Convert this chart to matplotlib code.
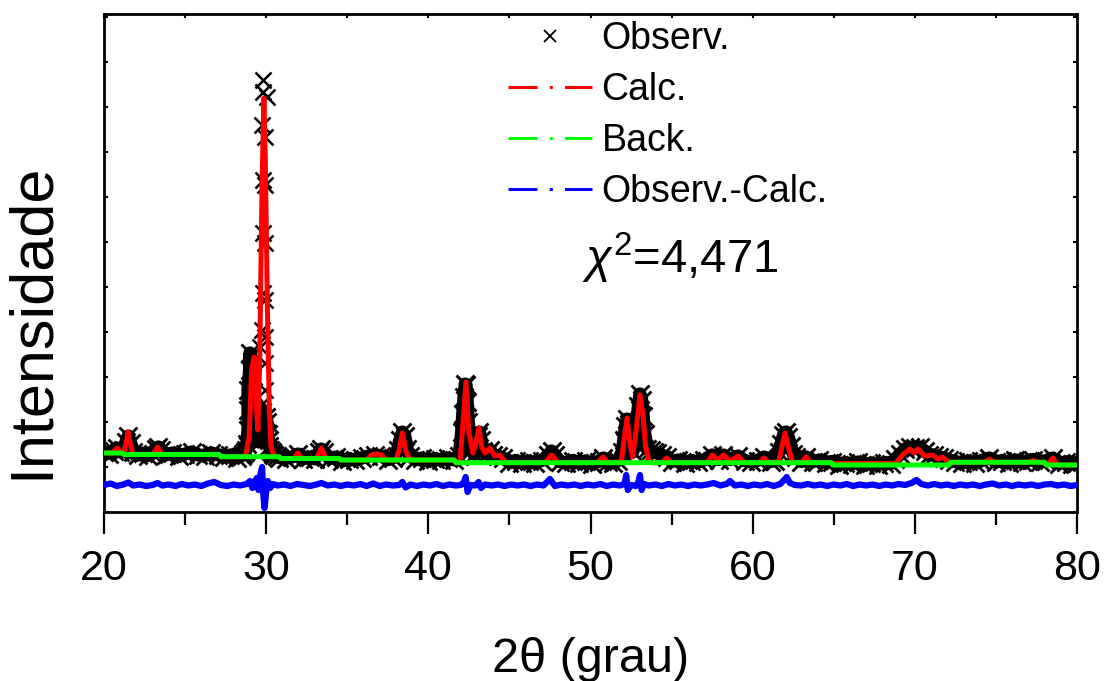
import matplotlib
matplotlib.use("Agg")
import matplotlib.pyplot as plt
from matplotlib.lines import Line2D
from matplotlib.ticker import MultipleLocator

plt.rcParams["font.family"] = ["Liberation Sans", "DejaVu Sans"]
plt.rcParams["mathtext.fontset"] = "custom"
plt.rcParams["mathtext.rm"] = "Liberation Sans"
plt.rcParams["mathtext.it"] = "Liberation Sans:italic"

# observed points (2theta, intensity in arbitrary units)
obs_2theta = [
    20.0, 20.3, 20.6, 20.8, 21.0,
    21.2, 21.35, 21.5, 21.65, 21.8,
    22.1, 22.4, 22.7, 23.0,
    23.2, 23.35, 23.5,
    23.8, 24.2, 24.6, 25.0, 25.4, 25.8, 26.2, 26.6, 27.0,
    27.4, 27.8, 28.2, 28.5,
    28.6, 28.7, 28.75, 28.8, 28.88, 28.88, 28.88, 28.98, 29.0, 29.05, 29.1, 29.15, 29.2,
    29.25, 29.3, 29.35, 29.38, 29.45, 29.52, 29.55, 29.65, 29.75,
    30.0, 30.05, 30.1, 30.15, 30.2, 30.25, 30.35, 30.45, 30.5, 30.65,
    30.8, 31.2, 31.6, 31.95, 32.3, 32.7, 33.0,
    33.25, 33.4, 33.55,
    33.9, 34.3, 34.7, 35.1, 35.5, 35.9, 36.3, 36.7, 37.1, 37.5, 37.8,
    38.1, 38.25, 38.4, 38.55, 38.7, 38.85,
    39.2, 39.6, 40.0, 40.4, 40.8, 41.2, 41.6,
    41.9, 42.05, 42.12, 42.2, 42.27, 42.33, 42.4, 42.47, 42.55, 42.65, 42.8, 42.95,
    43.05, 43.15, 43.25, 43.4, 43.6, 43.8, 44.0, 44.3, 44.6,
    45.0, 45.4, 45.8, 46.2, 46.6, 47.0,
    47.4, 47.6, 47.8,
    48.1, 48.5, 48.9, 49.3, 49.7, 50.1, 50.5, 50.8, 51.1, 51.4, 51.7,
    51.95, 52.05, 52.15, 52.25, 52.35, 52.45, 52.6, 52.75, 52.85, 52.95, 53.05, 53.15,
    53.25, 53.35, 53.5, 53.7, 53.9, 54.1, 54.4,
    54.7, 55.0, 55.4, 55.8, 56.2, 56.6, 57.0,
    57.5, 57.9, 58.2, 58.6, 59.1, 59.5, 59.9, 60.3, 60.7, 61.1, 61.4,
    61.6, 61.75, 61.9, 62.05, 62.2, 62.35, 62.5, 62.7,
    63.0, 63.3, 63.7, 64.1, 64.5, 64.9,
    65.3, 65.7, 66.1, 66.5, 66.9, 67.3, 67.7, 68.1, 68.5,
    68.8, 69.1, 69.4, 69.7, 70.0, 70.3, 70.6, 70.9, 71.2, 71.5, 71.8, 72.1,
    72.5, 72.9, 73.3, 73.7, 74.1, 74.6, 75.0, 75.4, 75.8, 76.2, 76.6, 77.0, 77.3, 77.7, 78.1,
    78.5, 78.9, 79.3, 79.7, 80.0,
]
obs_int = [
    60, 58.5, 61, 64, 60,
    62, 70, 76, 69, 60,
    57, 59, 56.5, 58.5,
    63, 65, 62,
    57, 59, 56, 58, 60, 57, 56.5, 59, 57.5,
    55, 57, 54.5, 56.5,
    58, 60, 62, 68, 82, 102, 122, 142, 159, 75, 150, 85, 120,
    92, 100, 78, 88, 80, 95, 70, 88, 100,
    95, 90, 78, 72, 66, 62, 60, 58, 57, 56,
    54.5, 53.5, 55, 58, 53.5, 55, 53,
    60, 63, 60,
    53.5, 55, 51.5, 53.5, 52, 54, 56, 57, 56, 52.5, 54,
    62, 72, 80, 76, 63, 56,
    52.5, 54, 51, 53.5, 52, 54, 52,
    56, 80, 98, 115, 128, 127, 110, 90, 72, 62, 58, 66,
    76, 80, 72, 61, 58, 62, 57, 56, 54,
    49.5, 51.5, 49, 51, 49.5, 51.5,
    57, 61, 57,
    50.5, 49, 51.5, 49.5, 51, 48.5, 50.5, 54, 50.5, 49, 51.5,
    60, 72, 86, 93, 88, 72, 60, 68, 88, 106, 118, 112,
    96, 78, 63, 62, 60, 59, 57,
    55, 50.5, 52, 49.5, 51.5, 50, 52,
    57, 52.5, 57, 52.5, 56, 51.5, 50, 51.5, 55, 50.5, 51.5,
    60, 68, 77, 80, 75, 66, 58, 55,
    50.5, 55, 50.5, 52, 49.5, 50.5,
    47.5, 49.5, 48, 50, 47, 49, 47.5, 49.5, 48.5,
    53, 58, 63, 65, 64, 65, 61, 57, 57, 55, 54, 52,
    50.5, 49, 51, 49.5, 51.5, 54, 50, 51.5, 49.5, 52, 50, 51.5, 52.5, 50, 51.5,
    54, 48.5, 50, 48, 49.5,
]

# observed points on the flanks of the strongest reflection
obs_peak_2theta = [29.61, 29.72, 29.72, 29.8, 29.82, 29.82, 29.82, 29.82, 29.82,
                   29.92, 29.92, 29.92, 29.92, 29.92, 29.92, 29.92, 30.03]
obs_peak_int = [165, 387, 182, 109, 432, 420, 332, 279, 219,
                375, 327, 269, 212, 175, 149, 122, 415]

# calculated profile (vertices)
calc_2theta = [
    20.0, 20.5, 20.8, 21.05, 21.15, 21.2, 21.35, 21.48, 21.62, 21.8,
    23.0, 23.2, 23.3, 23.4, 23.6, 27.1, 27.2,
    28.6, 28.75, 28.95, 29.1, 29.26, 29.38, 29.49, 29.6, 29.75, 29.86, 29.95, 30.08,
    30.2, 30.3, 30.5, 30.8, 30.9,
    31.7, 31.95, 32.2, 33.1, 33.4, 33.7, 34.5, 34.6,
    36.2, 36.5, 36.8, 37.1, 37.4, 38.0, 38.2, 38.4, 38.6, 38.85, 41.6, 41.7,
    41.95, 42.1, 42.32, 42.5, 42.75, 42.95, 43.12, 43.3, 43.5, 43.8, 44.1, 44.4, 44.8,
    47.2, 47.6, 48.0, 50.4, 50.77, 51.1,
    51.9, 52.05, 52.25, 52.42, 52.6, 52.8, 53.05, 53.25, 53.4, 53.6, 53.8,
    54.4, 54.7, 55.0, 57.2, 57.5, 57.85, 58.2, 58.6, 59.1, 59.5, 60.4, 60.7, 61.0,
    61.6, 61.8, 62.0, 62.2, 62.45, 63.0, 63.3, 63.6, 64.85, 64.95,
    68.8, 69.3, 69.7, 69.95, 70.2, 70.6, 71.1, 71.4, 71.7, 72.1, 72.2,
    74.3, 74.6, 74.9, 77.0, 77.3, 77.6, 78.0, 78.1, 78.2, 78.5, 78.8, 80.0,
]
calc_int = [
    59, 59, 64, 59.5, 59, 58, 68, 80, 68, 57.5,
    57.5, 62, 65, 62, 57.5, 57.5, 55.3,
    55.3, 58, 75, 142, 155, 110, 82, 150, 330, 414, 350, 200,
    100, 65, 56, 55.3, 53.5,
    53.5, 59, 53.5, 53.5, 64, 53.5, 53.5, 52,
    52, 57, 58, 57, 52, 52, 62, 79, 62, 52, 52, 49.3,
    50, 80, 130, 80, 59, 70, 84, 65, 59, 64, 56, 57, 49.3,
    49.3, 57, 49.3, 49.3, 55, 49.3,
    50, 70, 94, 70, 55, 80, 117, 95, 65, 52, 49.3,
    49.3, 54, 49.3, 49.3, 57, 52, 57, 51, 56, 49.3, 49.3, 54, 49.3,
    50, 65, 79, 65, 50, 49.3, 55, 49.3, 49.3, 48.5,
    48.5, 58, 63, 59, 63, 56, 57, 53, 55, 49.7, 49.7,
    49.7, 53, 49.7, 49.7, 51.5, 49.7, 49.7, 47, 47.5, 54, 47, 47,
]

# background (vertices)
back_2theta = [20.0, 21.1, 21.25, 27.1, 27.2, 30.8, 30.9, 34.5, 34.6, 41.6, 41.7,
               64.85, 64.95, 72.1, 72.2, 78.0, 78.1, 80.0]
back_int = [59, 59, 57.5, 57.5, 55.3, 55.3, 53.5, 53.5, 52, 52, 49.3,
            49.3, 47, 47, 49.7, 49.7, 47, 47]

# difference curve (offset)
diff_2theta = [
    20.0, 20.4, 20.8, 21.2, 21.5, 21.8, 22.2, 22.6, 23.0, 23.3, 23.6, 24.0, 24.4, 24.8,
    25.2, 25.6, 26.0, 26.4, 26.8, 27.2, 27.6, 28.0, 28.4, 28.8, 29.0, 29.15, 29.3, 29.42,
    29.52, 29.65, 29.75, 29.82, 29.9, 30.0, 30.1, 30.25, 30.4, 30.7, 31.1, 31.5, 31.9,
    32.3, 32.7, 33.1, 33.4, 33.8, 34.2, 34.6, 35.0, 35.4, 35.8, 36.2, 36.6, 37.0, 37.4,
    37.8, 38.2, 38.4, 38.6, 38.9, 39.3, 39.7, 40.1, 40.5, 40.9, 41.3, 41.7, 42.0, 42.2,
    42.3, 42.42, 42.6, 42.9, 43.1, 43.25, 43.5, 43.9, 44.3, 44.7, 45.1, 45.5, 45.9, 46.3,
    46.7, 47.1, 47.5, 47.8, 48.2, 48.6, 49.0, 49.4, 49.8, 50.2, 50.6, 51.0, 51.4, 51.8,
    52.1, 52.2, 52.3, 52.5, 52.8, 52.95, 53.05, 53.15, 53.3, 53.6, 54.0, 54.4, 54.8, 55.2,
    55.6, 56.0, 56.4, 56.8, 57.2, 57.6, 58.0, 58.4, 58.6, 58.9, 59.3, 59.7, 60.1, 60.5,
    60.9, 61.3, 61.7, 62.0, 62.1, 62.3, 62.6, 63.0, 63.4, 63.8, 64.2, 64.6, 65.0, 65.4,
    65.8, 66.2, 66.6, 67.0, 67.4, 67.8, 68.2, 68.6, 69.0, 69.4, 69.8, 70.1, 70.4, 70.8,
    71.2, 71.6, 72.0, 72.4, 72.8, 73.2, 73.6, 74.0, 74.4, 74.8, 75.2, 75.6, 76.0, 76.4,
    76.8, 77.2, 77.6, 78.0, 78.4, 78.8, 79.2, 79.6, 80.0,
]
diff_int = [
    27, 28.5, 26, 27.5, 29.5, 26.5, 27.5, 26, 27, 29, 26.5, 27.5, 26, 28,
    26.5, 27.5, 26, 28.5, 30, 27, 26, 27.5, 26.5, 28, 31, 24, 30, 34,
    22, 38, 45, 18, 4, 20, 31, 24, 28, 26.5, 27.5, 26, 28,
    27, 26, 27.5, 29, 26.5, 27.5, 26, 27.5, 26.5, 28, 26, 28.5, 26, 27.5,
    26.5, 27, 30, 24.5, 27.5, 26, 27.5, 26.5, 28, 26, 27.5, 26.5, 27, 30,
    35, 20, 27, 26.5, 30, 24, 27.5, 26.5, 27.5, 26, 27.5, 26.5, 27.5, 26,
    27.5, 26.5, 33, 26, 27.5, 26.5, 27.5, 26, 27.5, 26.5, 28, 26, 27.5, 26.5,
    28, 37, 22, 27, 26, 30, 37, 22, 28, 26.5, 27.5, 26, 28, 26.5,
    27.5, 26, 27.5, 26.5, 27.5, 29, 26.5, 28, 31, 26.5, 27.5, 26, 27.5, 26.5,
    28, 26, 28, 33, 35, 29, 27, 26.5, 28, 26.5, 27.5, 26, 27.5, 26.5,
    28, 26, 27.5, 26.5, 27.5, 26, 27.5, 26.5, 28, 27, 29, 32, 28, 26.5,
    28, 26.5, 27.5, 26, 27.5, 26.5, 27.5, 26, 27.5, 28.5, 26.5, 27.5, 26, 27.5,
    26.5, 27.5, 26, 27.5, 28, 26.5, 27.5, 26, 27,
]

legend_labels = ["Observ.", "Calc.", "Back.", "Observ.-Calc."]
chi2_text = r"$\chi^{2}$=4,471"

fig = plt.figure(figsize=(11.04, 6.81), dpi=100)
ax = fig.add_axes([104 / 1104, 1 - 512 / 681, 973 / 1104, 498 / 681])

ax.plot(obs_2theta, obs_int, ls="-", lw=9.5, marker="x", ms=13, mew=2.0,
        color="black", zorder=1)
ax.plot(obs_peak_2theta, obs_peak_int, ls="none", marker="x", ms=11, mew=1.8,
        color="black", zorder=1)
ax.plot(calc_2theta, calc_int, color="#ff0000", lw=3.6, zorder=2)
ax.plot(back_2theta, back_int, color="#00ff00", lw=3.6, zorder=3)
ax.plot(diff_2theta, diff_int, color="#0000ff", lw=4.5, zorder=4)

ax.set_xlim(20, 80)
ax.set_ylim(0, 498)

for side in ax.spines.values():
    side.set_linewidth(2.0)

ax.xaxis.set_major_locator(MultipleLocator(10))
ax.xaxis.set_minor_locator(MultipleLocator(5))
ax.tick_params(axis="x", which="major", direction="out", length=16, width=1.6,
               labelsize=31, pad=11, top=False)
ax.tick_params(axis="x", which="minor", direction="out", length=9, width=1.6, top=False)
ax.yaxis.set_major_locator(MultipleLocator(45))
ax.tick_params(axis="y", which="major", direction="in", length=3, width=1.5,
               left=True, right=True, labelleft=False)

top = ax.secondary_xaxis("top")
top.xaxis.set_major_locator(MultipleLocator(5))
top.tick_params(direction="in", length=3, width=1.5, labeltop=False)

ax.set_xlabel("2θ (grau)", fontsize=35, labelpad=34)
ax.set_ylabel("Intensidade", fontsize=44)
ax.yaxis.set_label_coords(-0.044, 0.383)

handles = [
    Line2D([], [], ls="none", marker="x", ms=9, mew=1.3, color="black"),
    Line2D([], [], color="#ff0000", lw=2.2, ls=(0, (9.5, 4, 1, 4))),
    Line2D([], [], color="#00ff00", lw=2.2, ls=(0, (9.5, 4, 1, 4))),
    Line2D([], [], color="#0000ff", lw=2.2, ls=(0, (9.5, 4, 1, 4))),
]
ax.legend(handles, legend_labels, loc="upper left", bbox_to_anchor=(0.415, 0.985),
          frameon=False, fontsize=27, handlelength=2.25, handletextpad=0.25,
          labelspacing=0.4, borderpad=0, borderaxespad=0, numpoints=1)

ax.text(0.491, 0.48, chi2_text, transform=ax.transAxes, fontsize=34,
        ha="left", va="baseline")

fig.savefig("out.png", dpi=100)
